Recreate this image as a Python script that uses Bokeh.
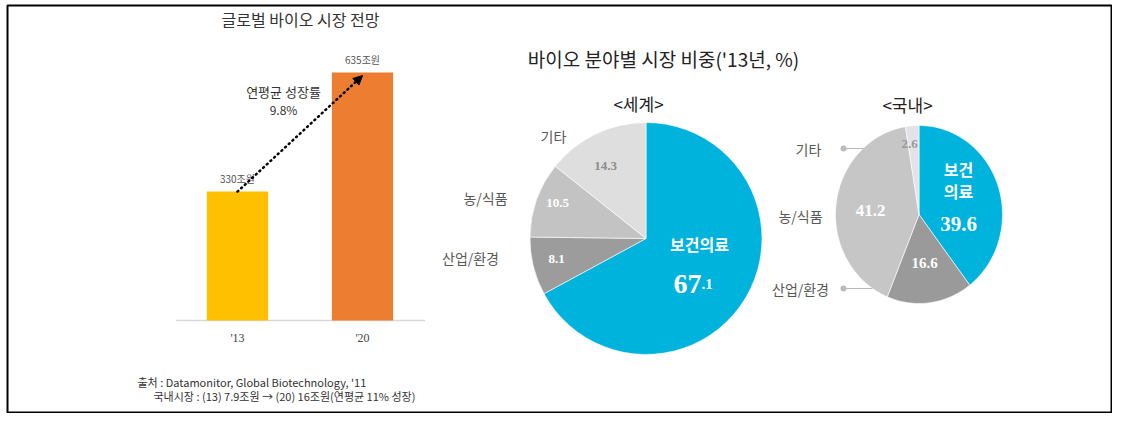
import math
from bokeh.plotting import figure
from bokeh.models import Range1d, Arrow, NormalHead
from bokeh.core.properties import value
from bokeh.embed import file_html
from bokeh.resources import INLINE

# ---------------- data ----------------
years = ["'13", "'20"]
market = [330, 635]            # 조원
market_unit = "조원"
bar_title = "글로벌 바이오 시장 전망"
growth_label = "연평균 성장률"
growth_rate = "9.8%"

pie_title = "바이오 분야별 시장 비중('13년, %)"
sectors = ["보건의료", "산업/환경", "농/식품", "기타"]
world_share = [67.1, 8.1, 10.5, 14.3]
domestic_share = [39.6, 16.6, 41.2, 2.6]
world_title = "<세계>"
domestic_title = "<국내>"

note1 = "출처 : Datamonitor, Global Biotechnology, '11"
note2 = "국내시장 : (13) 7.9조원 → (20) 16조원(연평균 11% 성장)"

# ---------------- styles ----------------
bar_colors = ["#FFC000", "#ED7D31"]
world_colors = ["#00B3DC", "#9C9C9C", "#C3C3C3", "#DEDEDE"]
dom_colors = ["#00B3DC", "#9A9A9A", "#C6C6C6", "#E2E2E8"]
KR = value("Noto Sans CJK KR")
SERIF = value("Liberation Serif")

FL, FT, FW, FH = 7, 5, 1105, 408   # frame position/size in page pixels
p = figure(frame_width=FW, frame_height=FH,
           x_range=Range1d(FL, FL + FW), y_range=Range1d(424 - FT - FH, 424 - FT),
           min_border_left=FL, min_border_top=FT, min_border_right=0, min_border_bottom=0,
           x_axis_location=None, y_axis_location=None,
           output_backend="svg", toolbar_location=None)
p.grid.visible = False
p.outline_line_color = "black"
p.outline_line_width = 2
p.background_fill_color = "white"
p.border_fill_color = "white"


def Y(iy):
    return 424 - iy


# --- bar chart via its own scales ---
k = 248 / 635.0                   # px per 조원
base = Y(320)
ybot, ytop = 424 - FT - FH, 424 - FT
p.extra_y_ranges = {"bar": Range1d(-(base - ybot) / k, (ytop - base) / k)}
p.extra_x_ranges = {"barx": Range1d((FL - 237) / 125.0, (FL + FW - 237) / 125.0)}
idx = list(range(len(years)))

p.segment(x0=[-0.49], y0=[0], x1=[1.5], y1=[0], line_color="#D9D9D9", line_width=1.5,
          x_range_name="barx", y_range_name="bar")
p.vbar(x=idx, top=market, bottom=0, width=0.49, fill_color=bar_colors, line_color=None,
       x_range_name="barx", y_range_name="bar")
p.text(x=idx, y=[0] * len(idx), text=years, y_offset=17, text_align="center", text_baseline="middle",
       text_font=SERIF, text_font_size="12px", text_color="#444444",
       x_range_name="barx", y_range_name="bar")
p.text(x=idx, y=market, text=[f"{v}{market_unit}" for v in market], y_offset=-13,
       text_align="center", text_baseline="middle", text_font=KR, text_font_size="10px",
       text_color="#555555", x_range_name="barx", y_range_name="bar")

arrow = Arrow(x_start=0, y_start=market[0], x_end=1, y_end=market[1] - 8,
              x_range_name="barx", y_range_name="bar",
              line_color="black", line_width=2.5, line_dash="1 4", line_cap="round",
              end=NormalHead(size=9, fill_color="black", line_color="black"))
p.add_layout(arrow)

p.text(x=[283], y=[Y(91)], text=[growth_label], text_align="center", text_baseline="middle",
       text_font=KR, text_font_size="13px", text_color="#333333")
p.text(x=[283], y=[Y(109)], text=[growth_rate], text_align="center", text_baseline="middle",
       text_font=KR, text_font_size="12px", text_color="#333333")

p.text(x=[300], y=[Y(18)], text=[bar_title], text_align="center", text_baseline="middle",
       text_font=KR, text_font_size="16px", text_color="#333333")

p.text(x=[137], y=[Y(381)], text=[note1], text_align="left", text_baseline="middle",
       text_font=KR, text_font_size="11px", text_color="#333333")
p.text(x=[153], y=[Y(395)], text=[note2], text_align="left", text_baseline="middle",
       text_font=KR, text_font_size="11px", text_color="#333333")

# --- right side titles ---
p.text(x=[663], y=[Y(58)], text=[pie_title], text_align="center", text_baseline="middle",
       text_font=KR, text_font_size="19px", text_color="#222222")
p.text(x=[638], y=[Y(103)], text=[world_title], text_align="center", text_baseline="middle",
       text_font=KR, text_font_size="17px", text_color="#222222")
p.text(x=[907], y=[Y(104)], text=[domestic_title], text_align="center", text_baseline="middle",
       text_font=KR, text_font_size="17px", text_color="#222222")


def cum_fracs(vals):
    tot = float(sum(vals))
    c, out = 0.0, []
    for v in vals:
        out.append((c / tot, (c + v) / tot))
        c += v
    return out


# --- world pie (circle, clockwise from 12 o'clock) ---
wc = cum_fracs(world_share)
p.wedge(x=[645.5] * 4, y=[Y(238)] * 4, radius=116,
        start_angle=[math.pi / 2 - 2 * math.pi * a for a, b in wc],
        end_angle=[math.pi / 2 - 2 * math.pi * b for a, b in wc],
        direction="clock", fill_color=world_colors, line_color="white", line_width=0.6)

# --- domestic pie (slightly elliptical) ---
dcx, dcy, rx, ry = 918.5, Y(214), 83.5, 89
xs, ys = [], []
for a, b in cum_fracs(domestic_share):
    n = max(4, int((b - a) * 200))
    px, py = [dcx], [dcy]
    for j in range(n + 1):
        t = 2 * math.pi * (a + (b - a) * j / n)
        px.append(dcx + rx * math.sin(t))
        py.append(dcy + ry * math.cos(t))
    xs.append(px)
    ys.append(py)
p.patches(xs=xs, ys=ys, fill_color=dom_colors, line_color="white", line_width=0.6)

# --- world labels ---
lab_col = "#595959"
p.text(x=[553, 485, 470], y=[Y(135), Y(197), Y(257)], text=[sectors[3], sectors[2], sectors[1]],
       text_align="center", text_baseline="middle", text_font=KR, text_font_size="14px",
       text_color=lab_col)
p.text(x=[605], y=[Y(165)], text=[f"{world_share[3]}"], text_align="center", text_baseline="middle",
       text_font=SERIF, text_font_size="13px", text_color="#8C8C8C", text_font_style="bold")
p.text(x=[557, 556], y=[Y(202), Y(258)], text=[f"{world_share[2]}", f"{world_share[1]}"],
       text_align="center", text_baseline="middle", text_font=SERIF, text_font_size="13px",
       text_color="white", text_font_style="bold")
p.text(x=[699], y=[Y(243)], text=[sectors[0]], text_align="center", text_baseline="middle",
       text_font=KR, text_font_size="16px", text_color="white", text_font_style="bold")
ip, dp = f"{world_share[0]}".split(".")
p.text(x=[701], y=[Y(283)], text=[ip], text_align="right", text_baseline="alphabetic",
       text_font=SERIF, text_font_size="28px", text_color="white", text_font_style="bold")
p.text(x=[701], y=[Y(283)], text=["." + dp], text_align="left", text_baseline="alphabetic",
       text_font=SERIF, text_font_size="15px", text_color="white", text_font_style="bold")

# --- domestic labels ---
p.segment(x0=[843, 843], y0=[Y(148), Y(288)], x1=[863, 872], y1=[Y(148), Y(288)],
          line_color="#BBBBBB", line_width=1)
p.scatter(x=[843, 843], y=[Y(148), Y(288)], size=6, fill_color="#BBBBBB", line_color=None)
p.text(x=[808, 800, 800], y=[Y(148), Y(215), Y(288)], text=[sectors[3], sectors[2], sectors[1]],
       text_align="center", text_baseline="middle", text_font=KR, text_font_size="14px",
       text_color=lab_col)
p.text(x=[909], y=[Y(143)], text=[f"{domestic_share[3]}"], text_align="center",
       text_baseline="middle", text_font=SERIF, text_font_size="13px", text_color="#9A9A9A",
       text_font_style="bold")
p.text(x=[870], y=[Y(210)], text=[f"{domestic_share[2]}"], text_align="center",
       text_baseline="middle", text_font=SERIF, text_font_size="17px", text_color="white",
       text_font_style="bold")
p.text(x=[924], y=[Y(262)], text=[f"{domestic_share[1]}"], text_align="center",
       text_baseline="middle", text_font=SERIF, text_font_size="15px", text_color="white",
       text_font_style="bold")
p.text(x=[958, 958], y=[Y(168), Y(190)], text=[sectors[0][:2], sectors[0][2:]],
       text_align="center", text_baseline="middle", text_font=KR, text_font_size="16px",
       text_color="white", text_font_style="bold")
p.text(x=[958], y=[Y(223)], text=[f"{domestic_share[0]}"], text_align="center",
       text_baseline="middle", text_font=SERIF, text_font_size="21px", text_color="white",
       text_font_style="bold")

open("out.html", "w").write(file_html(p, INLINE))
